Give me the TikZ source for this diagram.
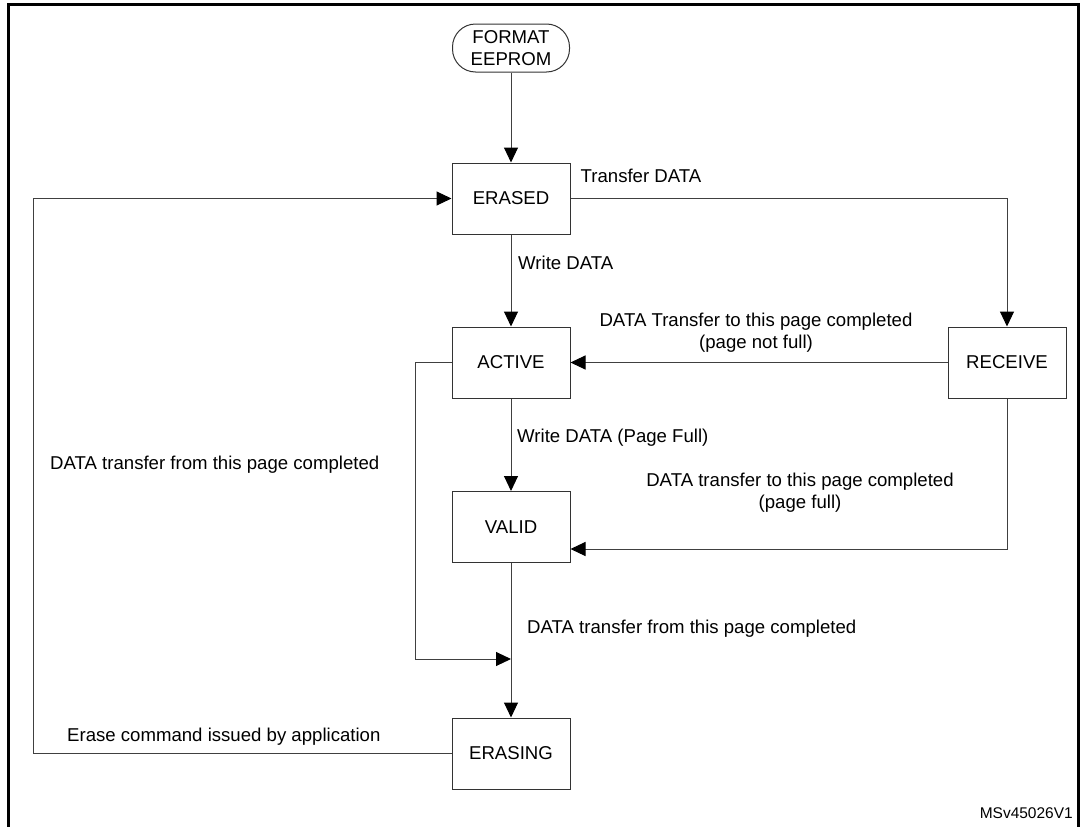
\documentclass[tikz,border=0pt]{standalone}
\usepackage{fontspec}
\setmainfont{Liberation Sans}
\usetikzlibrary{arrows.meta}

\begin{document}
\begin{tikzpicture}[x=1pt, y=-1pt, >={Triangle[length=15pt,width=14pt,color=black]},
  every node/.style={font=\fontsize{18.6}{22}\selectfont},
  statebox/.style={draw=black!80, line width=1pt, minimum width=118pt, minimum height=71pt, inner sep=0pt},
  wire/.style={draw=black!75, line width=1pt},
  lbl/.style={inner sep=0pt, align=center}]
  \useasboundingbox (0,0) rectangle (1082,827);
  \draw[line width=3pt] (8,827) -- (8,4) -- (1078,4) -- (1078,827);

  % states
  \node[draw=black!80, line width=1pt, rounded corners=23pt, minimum width=117pt, minimum height=48pt,
        inner sep=0pt, align=center] (fmt) at (511,48) {FORMAT\\EEPROM};
  \node[statebox] (erased)  at (511,198.5) {ERASED};
  \node[statebox] (active)  at (511,362.5) {ACTIVE};
  \node[statebox] (valid)   at (511,527)   {VALID};
  \node[statebox] (erasing) at (511,753.5) {ERASING};
  \node[statebox] (receive) at (1007,362.5) {RECEIVE};
  \coordinate (join) at (511,659);

  % transitions
  \draw[wire,->] (fmt) -- (erased);
  \draw[wire,->] (erased) -- (active);
  \draw[wire,->] (erased.east) -| (receive.north);
  \draw[wire,->] (receive.west) -- (active.east);
  \draw[wire,->] (active) -- (valid);
  \draw[wire,->] (receive.south) |- ([yshift=-22pt]valid.east);
  \draw[wire,->] (valid) -- (erasing);
  \draw[wire,->] (active.west) -- ++(-36,0) |- (join);
  \draw[wire,->] (erasing.west) -- ++(-418,0) |- (erased.west);

  % labels
  \node[lbl, anchor=west] (lwrite)  at (518,263) {Write DATA};
  \node[lbl] (ltrans) at (641,176) {Transfer DATA};
  \node[lbl] (lnotfull) at (756,333) {DATA Transfer to this page completed\\(page not full)};
  \node[lbl, anchor=west] (lfull) at (517,438) {Write DATA (Page Full)};
  \node[lbl] (lpfull) at (800,493) {DATA transfer to this page completed\\(page full)};
  \node[lbl, anchor=west] (lfrom) at (527,629) {DATA transfer from this page completed};
  \node[lbl, anchor=west] (lfromleft) at (50,465) {DATA transfer from this page completed};
  \node[lbl, anchor=west] (lerase) at (67,737) {Erase command issued by application};
  \node[lbl, anchor=east, font=\fontsize{15.5}{18}\selectfont] (ref) at (1073,813) {MSv45026V1};
\end{tikzpicture}
\end{document}
